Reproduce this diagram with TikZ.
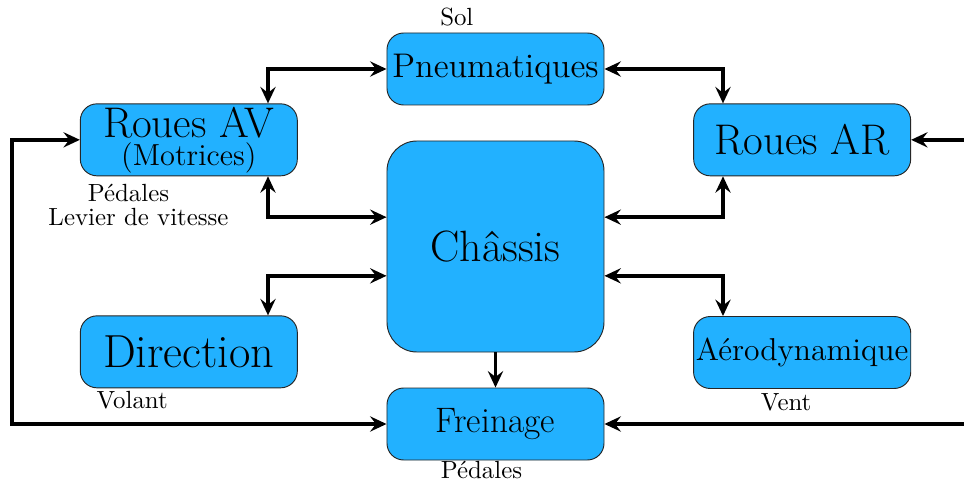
\documentclass[tikz,border=0pt]{standalone}
\usepackage{amsmath}
\usepackage{tikz}
\usetikzlibrary{arrows.meta,calc,positioning}
\definecolor{bleuboite}{RGB}{34,177,255}
\newcommand{\taille}[1]{\fontsize{#1}{1.2\dimexpr#1pt\relax}\selectfont}
\tikzset{
	boite/.style={draw=black!85, fill=bleuboite, rounded corners=0.25cm,
		minimum width=3.255cm, minimum height=1.08cm, inner sep=1pt, align=center},
	boitechassis/.style={boite, rounded corners=0.45cm, minimum height=3.165cm},
	lbl/.style={inner sep=0pt, anchor=base, font=\taille{10.6}},
	fl/.style={line width=1.7pt, -{Stealth[length=7pt,width=6.5pt,inset=2.5pt]}},
	fll/.style={line width=1.7pt, {Stealth[length=7pt,width=6.5pt,inset=2.5pt]}-{Stealth[length=7pt,width=6.5pt,inset=2.5pt]}}
}

\begin{document}
\begin{tikzpicture}
	\useasboundingbox (-7.4325,-3.5775) rectangle (7.0275,3.6975);
	% blocs
	\node [boitechassis] (chassis) at (0,0) {\taille{18.7}Ch\^assis};
	\node [boite] (pneu) at (0,2.6625) {\taille{14.6}Pneumatiques};
	\node [boite] (frein) at (0,-2.6625) {\taille{15.1}Freinage};
	\node [boite] (rav) at (-4.6,1.6) {\taille{18.3}Roues AV\\\fontsize{13}{12.2}\selectfont (Motrices)};
	\node [boite] (rar) at (4.6,1.6) {\taille{18.3}Roues AR};
	\node [boite] (dir) at (-4.6,-1.58) {\taille{19.8}Direction};
	\node [boite] (aero) at (4.6,-1.59) {\taille{13.5}A\'erodynamique};
	% entrees
	\node [lbl] (sol) at ($(pneu.north)+(-0.58,0.1)$) {Sol};
	\node [lbl] (pedav) at ($(rav.south)+(-0.905,-0.385)$) {P\'edales};
	\node [lbl] (levier) at ($(rav.south)+(-0.755,-0.735)$) {Levier de vitesse};
	\node [lbl] (volant) at ($(dir.south)+(-0.85,-0.305)$) {Volant};
	\node [lbl] (vent) at ($(aero.south)+(-0.24,-0.33)$) {Vent};
	\node [lbl] (pedfr) at ($(frein.south)+(-0.21,-0.27)$) {P\'edales};
	\coordinate (colG) at (-3.4125,0);
	\coordinate (colD) at (3.4125,0);
	\coordinate (boucle) at (-7.25,0);
	\coordinate (entreeAR) at (7.0275,1.6);
	\coordinate (entreeFR) at (7.0275,-2.6625);
	% liaisons
	\draw [fll] (rav.north -| colG) |- (pneu.west);
	\draw [fll] (pneu.east) -| (rar.north -| colD);
	\draw [fll] (rav.south -| colG) |- ($(chassis.west)+(0,0.44)$);
	\draw [fll] (rar.south -| colD) |- ($(chassis.east)+(0,0.44)$);
	\draw [fll] ($(chassis.west)+(0,-0.44)$) -| (dir.north -| colG);
	\draw [fll] ($(chassis.east)+(0,-0.44)$) -| (aero.north -| colD);
	\draw [fl] (chassis) -- (frein);
	\draw [fll] (frein.west) -| (boucle) |- (rav.west);
	\draw [fl] (entreeAR) -- (rar.east);
	\draw [fl] (entreeFR) -- (frein.east);
\end{tikzpicture}
\end{document}
